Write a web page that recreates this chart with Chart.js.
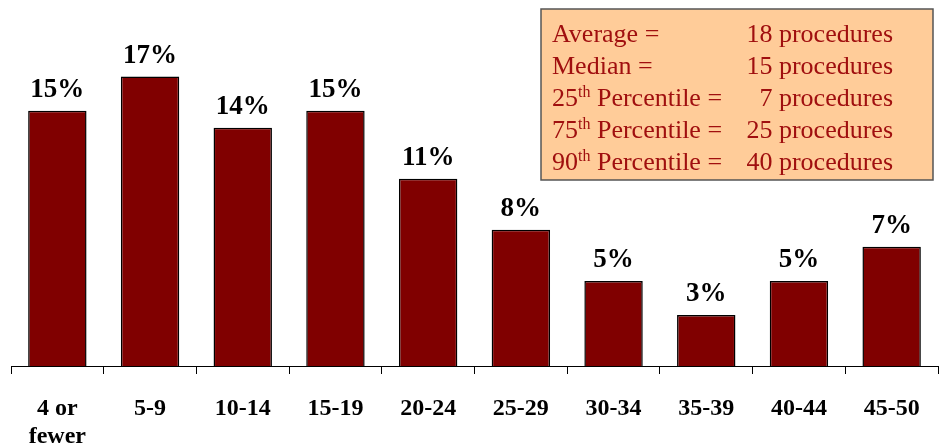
<!DOCTYPE html>
<html>
<head>
<meta charset="utf-8">
<script src="https://cdn.jsdelivr.net/npm/chart.js@4/dist/chart.umd.min.js"></script>
<style>
html, body { margin: 0; padding: 0; background: #fff; }
#wrap { width: 944px; height: 446px; }
</style>
</head>
<body>
<div id="wrap"><canvas id="myChart"></canvas></div>
<script>
/* Data */
var categories = [['4 or', 'fewer'], '5-9', '10-14', '15-19', '20-24', '25-29', '30-34', '35-39', '40-44', '45-50'];
var percents = [15, 17, 14, 15, 11, 8, 5, 3, 5, 7];
var statNames = [['Average =', ''], ['Median =', ''], ['25', 'th', ' Percentile ='], ['75', 'th', ' Percentile ='], ['90', 'th', ' Percentile =']];
var statValues = ['18 procedures', '15 procedures', '7 procedures', '25 procedures', '40 procedures'];
/* End Data */

var serif = '"Liberation Serif", "Times New Roman", serif';

/* bar labels on top */
var barLabels = {
    id: 'barLabels',
    afterDatasetsDraw: function(chart) {
        var ctx = chart.ctx;
        var meta = chart.getDatasetMeta(0);
        ctx.save();
        ctx.font = 'bold 27px ' + serif;
        ctx.fillStyle = '#000';
        ctx.textAlign = 'center';
        ctx.textBaseline = 'alphabetic';
        meta.data.forEach(function(bar, i) {
            ctx.fillText(percents[i] + '%', bar.x, bar.y - 14);
        });
        ctx.restore();
    }
};

/* stats box */
var statsBox = {
    id: 'statsBox',
    afterDraw: function(chart) {
        var ctx = chart.ctx;
        ctx.save();
        ctx.fillStyle = '#FFCC99';
        ctx.fillRect(541, 9, 392, 171);
        ctx.strokeStyle = '#555';
        ctx.lineWidth = 1.5;
        ctx.strokeRect(541, 9, 392, 171);
        ctx.fillStyle = '#A00F0F';
        ctx.textBaseline = 'alphabetic';
        for (let i = 0; i < statNames.length; i++) {
            var y = 42 + i * 32;
            var x = 552;
            var parts = statNames[i];
            ctx.textAlign = 'left';
            ctx.font = '26px ' + serif;
            ctx.fillText(parts[0], x, y);
            if (parts.length == 3) {
                x += ctx.measureText(parts[0]).width;
                ctx.font = '16px ' + serif;
                ctx.fillText(parts[1], x, y - 9);
                x += ctx.measureText(parts[1]).width;
                ctx.font = '26px ' + serif;
                ctx.fillText(parts[2], x, y);
            }
            ctx.font = '26px ' + serif;
            ctx.textAlign = 'right';
            ctx.fillText(statValues[i], 893, y);
        }
        ctx.restore();
    }
};

const data = {
    labels: categories,
    datasets: [
        {
            label: 'Percent',
            data: percents,
            backgroundColor: '#800000',
            borderColor: '#000',
            borderWidth: 1.5,
            categoryPercentage: 1,
            barPercentage: 0.63
        }
    ]
};

const config = {
    type: 'bar',
    data: data,
    options: {
        responsive: true,
        maintainAspectRatio: false,
        animation: false,
        layout: { padding: { left: 11, right: 6, top: 0, bottom: 0 } },
        plugins: {
            legend: { display: false },
            tooltip: { enabled: false }
        },
        scales: {
            y: {
                display: false,
                min: 0,
                max: 21.5
            },
            x: {
                offset: true,
                afterFit: function(scale) {
                    scale.height = 80;
                },
                border: { display: true, color: '#000', width: 1 },
                grid: {
                    display: true,
                    drawOnChartArea: false,
                    drawTicks: true,
                    tickLength: 8,
                    color: '#000',
                    offset: true
                },
                ticks: {
                    color: '#000',
                    font: { family: serif, size: 24, weight: 'bold', lineHeight: 1.15 },
                    padding: 21,
                    maxRotation: 0,
                    autoSkip: false
                }
            }
        }
    },
    plugins: [barLabels, statsBox]
};

var myChart = new Chart(document.getElementById('myChart'), config);
</script>
</body>
</html>
